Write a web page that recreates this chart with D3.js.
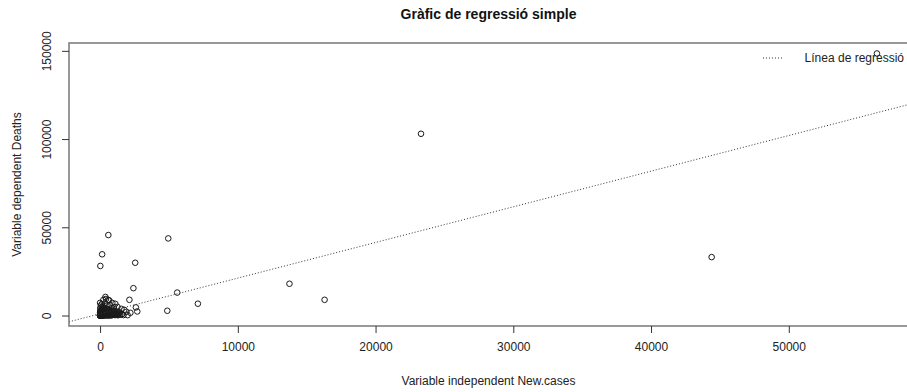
<!DOCTYPE html>
<html>
<head>
<meta charset="utf-8">
<script src="https://cdn.jsdelivr.net/npm/d3@7"></script>
<style>
  html, body { margin: 0; padding: 0; background: #fff; }
  svg { display: block; font-family: Arial, "Liberation Sans", sans-serif; }
</style>
</head>
<body>
<svg id="chart" width="907" height="392"></svg>
<script>
// Observations: new cases (x) and deaths (y) per country
const newCases = [
  56400, 23300, 44400, 600, 4950, 150, 20, 2550, 2420, 5600, 13750, 16300, 7100, 4880, 2130, 2700, 2600, 2000,
  390, 600, 240, 890, 680, 1110, 1260, 1550, 1760, 1910, 2200, 1470, 1180, 890, 530, 170, 0, 20, 430, 670,
  5, 12, 30, 48, 70, 95, 110, 140, 160, 190, 220, 250, 280, 310, 350, 400, 430, 470, 510, 560, 600, 650,
  720, 780, 840, 900, 970, 1040, 1120, 1200, 1300, 1400, 1600, 1700, 8, 22, 38, 55, 75, 100, 130, 175,
  210, 260, 320, 380, 450, 530, 620, 700, 820, 950, 1080, 1250, 0, 3, 15, 60, 120, 200, 290, 350, 460,
  800, 1000, 2, 1, 6, 18, 26, 43, 85, 65,
  15, 40, 65, 90, 115, 150, 180, 230, 270, 300, 330, 370, 410, 440, 490, 540, 580, 630, 680, 730,
  760, 810, 870, 920, 980, 1030, 1100, 1150, 1220, 1280, 1350, 1420, 20, 45, 80, 105, 135, 165, 195, 240,
  275, 300, 345, 390, 425, 460, 500, 545, 590, 640, 690, 750, 790, 860, 910, 1010, 1060, 1170, 1330, 9,
  33, 52, 88, 125, 155, 205, 245, 285, 335,
  25, 58, 97, 143, 186, 228, 266, 312, 357, 402, 447, 493, 538, 584, 629, 675, 722, 768, 815, 862,
  36, 82, 128, 171, 219, 263, 307, 352, 398, 443, 489, 534, 581, 626, 671, 718
];
const deaths = [
  148500, 103000, 33100, 45600, 43700, 34700, 28100, 29900, 15500, 13000, 18000, 8900, 6700, 2700, 8900, 2300, 4600, 200,
  10550, 8860, 8860, 7170, 6040, 6600, 4910, 3780, 3220, 2090, 1520, 400, 1520, 2650, 3780, 4910, 7170, 2650, 9400, 8500,
  0, 3, 15, 60, 2, 120, 8, 45, 300, 20, 650, 90, 1200, 35, 480, 150, 2100, 70, 900, 260, 1700, 40,
  520, 1350, 180, 800, 2400, 330, 1000, 620, 150, 1900, 800, 250, 40, 210, 900, 1500, 2800, 3300, 1900, 2500,
  1100, 3000, 1650, 2700, 1250, 2950, 3400, 2300, 2900, 1600, 2600, 2200, 510, 1800, 4200, 5600, 6500, 5200, 4300, 6800, 5500,
  4000, 4800, 0, 1, 7, 1, 10, 4, 28, 230,
  100, 350, 700, 1000, 400, 800, 1300, 200, 600, 1000, 250, 800, 500, 1100, 300, 700, 1500, 400, 900, 200,
  1700, 600, 1100, 350, 1300, 700, 300, 1500, 900, 450, 1100, 600, 1200, 1700, 2000, 2300, 1500, 1000, 1800, 1400,
  2100, 500, 1900, 1200, 300, 1800, 1400, 500, 2200, 1100, 1800, 950, 500, 1900, 1500, 1900, 1200, 550, 1700, 600,
  2500, 300, 1400, 2900, 60, 2700, 1000, 3500, 1300,
  550, 1250, 180, 1650, 730, 1480, 420, 1850, 950, 1450, 680, 1620, 1050, 130, 1350, 780, 1550, 1150, 140, 760,
  1600, 520, 2100, 460, 1550, 850, 1750, 620, 1950, 720, 1650, 1020, 1270, 260, 1870, 580
];

// Fitted simple regression: deaths = intercept + slope * newCases
const intercept = 1000;
const slope = 2.02;

const xTicks = [0, 10000, 20000, 30000, 40000, 50000];
const yTicks = [0, 50000, 100000, 150000];

const titleText = "Gràfic de regressió simple";
const xLabel = "Variable independent New.cases";
const yLabel = "Variable dependent Deaths";
const legendLabel = "Línea de regressió";

const points = newCases.map((v, i) => ({ x: v, y: deaths[i] }));

const svg = d3.select("#chart");
const plot = { left: 69, right: 908, top: 43, bottom: 326 };

// Extend the data ranges by 4% on each side
function padded(ext) {
  const r = ext[1] - ext[0];
  return [ext[0] - 0.04 * r, ext[1] + 0.04 * r];
}
const x = d3.scaleLinear().domain(padded(d3.extent(newCases))).range([plot.left, plot.right]);
const y = d3.scaleLinear().domain(padded(d3.extent(deaths))).range([plot.bottom, plot.top]);

svg.append("rect").attr("width", 907).attr("height", 392).attr("fill", "#fff");

svg.append("defs").append("clipPath").attr("id", "plotclip")
  .append("rect")
  .attr("x", plot.left).attr("y", plot.top)
  .attr("width", plot.right - plot.left).attr("height", plot.bottom - plot.top);

// Points
svg.append("g").selectAll("circle")
  .data(points)
  .join("circle")
  .attr("cx", d => x(d.x))
  .attr("cy", d => y(d.y))
  .attr("r", 2.8)
  .attr("fill", "none")
  .attr("stroke", "#1a1a1a")
  .attr("stroke-width", 1);

// Regression line across the plotting region
const xd = x.domain();
const lineGen = d3.line().x(d => x(d[0])).y(d => y(d[1]));
svg.append("path")
  .attr("clip-path", "url(#plotclip)")
  .attr("d", lineGen(xd.map(v => [v, intercept + slope * v])))
  .attr("fill", "none")
  .attr("stroke", "#333")
  .attr("stroke-width", 1)
  .attr("stroke-dasharray", "1,2");

// Plot frame
svg.append("rect")
  .attr("x", plot.left).attr("y", plot.top)
  .attr("width", plot.right - plot.left).attr("height", plot.bottom - plot.top)
  .attr("fill", "none")
  .attr("stroke", "#777")
  .attr("stroke-width", 1.5);

// Axes
const xAxis = svg.append("g")
  .attr("transform", `translate(0,${plot.bottom})`)
  .call(d3.axisBottom(x).tickValues(xTicks).tickFormat(d3.format("d"))
    .tickSizeInner(7).tickSizeOuter(0).tickPadding(9));
const yAxis = svg.append("g")
  .attr("transform", `translate(${plot.left},0)`)
  .call(d3.axisLeft(y).tickValues(yTicks).tickFormat(d3.format("d"))
    .tickSizeInner(7).tickSizeOuter(0).tickPadding(0));

[xAxis, yAxis].forEach(g => {
  g.select(".domain").remove();
  g.selectAll(".tick line").attr("stroke", "#333").attr("stroke-width", 1);
  g.selectAll(".tick text")
    .attr("fill", "#222")
    .style("font-size", "12px")
    .style("font-family", "Arial, 'Liberation Sans', sans-serif");
});

// Rotated y tick labels
yAxis.selectAll(".tick text")
  .attr("x", null).attr("dy", null)
  .attr("text-anchor", "middle")
  .attr("transform", "translate(-18,0) rotate(-90)");

// Titles
svg.append("text")
  .attr("x", (plot.left + plot.right) / 2).attr("y", 19)
  .attr("text-anchor", "middle")
  .style("font-size", "14px").style("font-weight", "bold")
  .attr("fill", "#111")
  .text(titleText);

svg.append("text")
  .attr("x", (plot.left + plot.right) / 2).attr("y", 385)
  .attr("text-anchor", "middle")
  .style("font-size", "12px")
  .attr("fill", "#222")
  .text(xLabel);

svg.append("text")
  .attr("transform", `translate(21,${(plot.top + plot.bottom) / 2}) rotate(-90)`)
  .attr("text-anchor", "middle")
  .style("font-size", "12px")
  .attr("fill", "#222")
  .text(yLabel);

// Legend
const legend = svg.append("g");
legend.append("line")
  .attr("x1", 763).attr("x2", 783).attr("y1", 58).attr("y2", 58)
  .attr("stroke", "#333").attr("stroke-width", 1).attr("stroke-dasharray", "1,2");
legend.append("text")
  .attr("x", 904).attr("y", 62)
  .attr("text-anchor", "end")
  .style("font-size", "12px")
  .attr("fill", "#222")
  .text(legendLabel);
</script>
</body>
</html>
